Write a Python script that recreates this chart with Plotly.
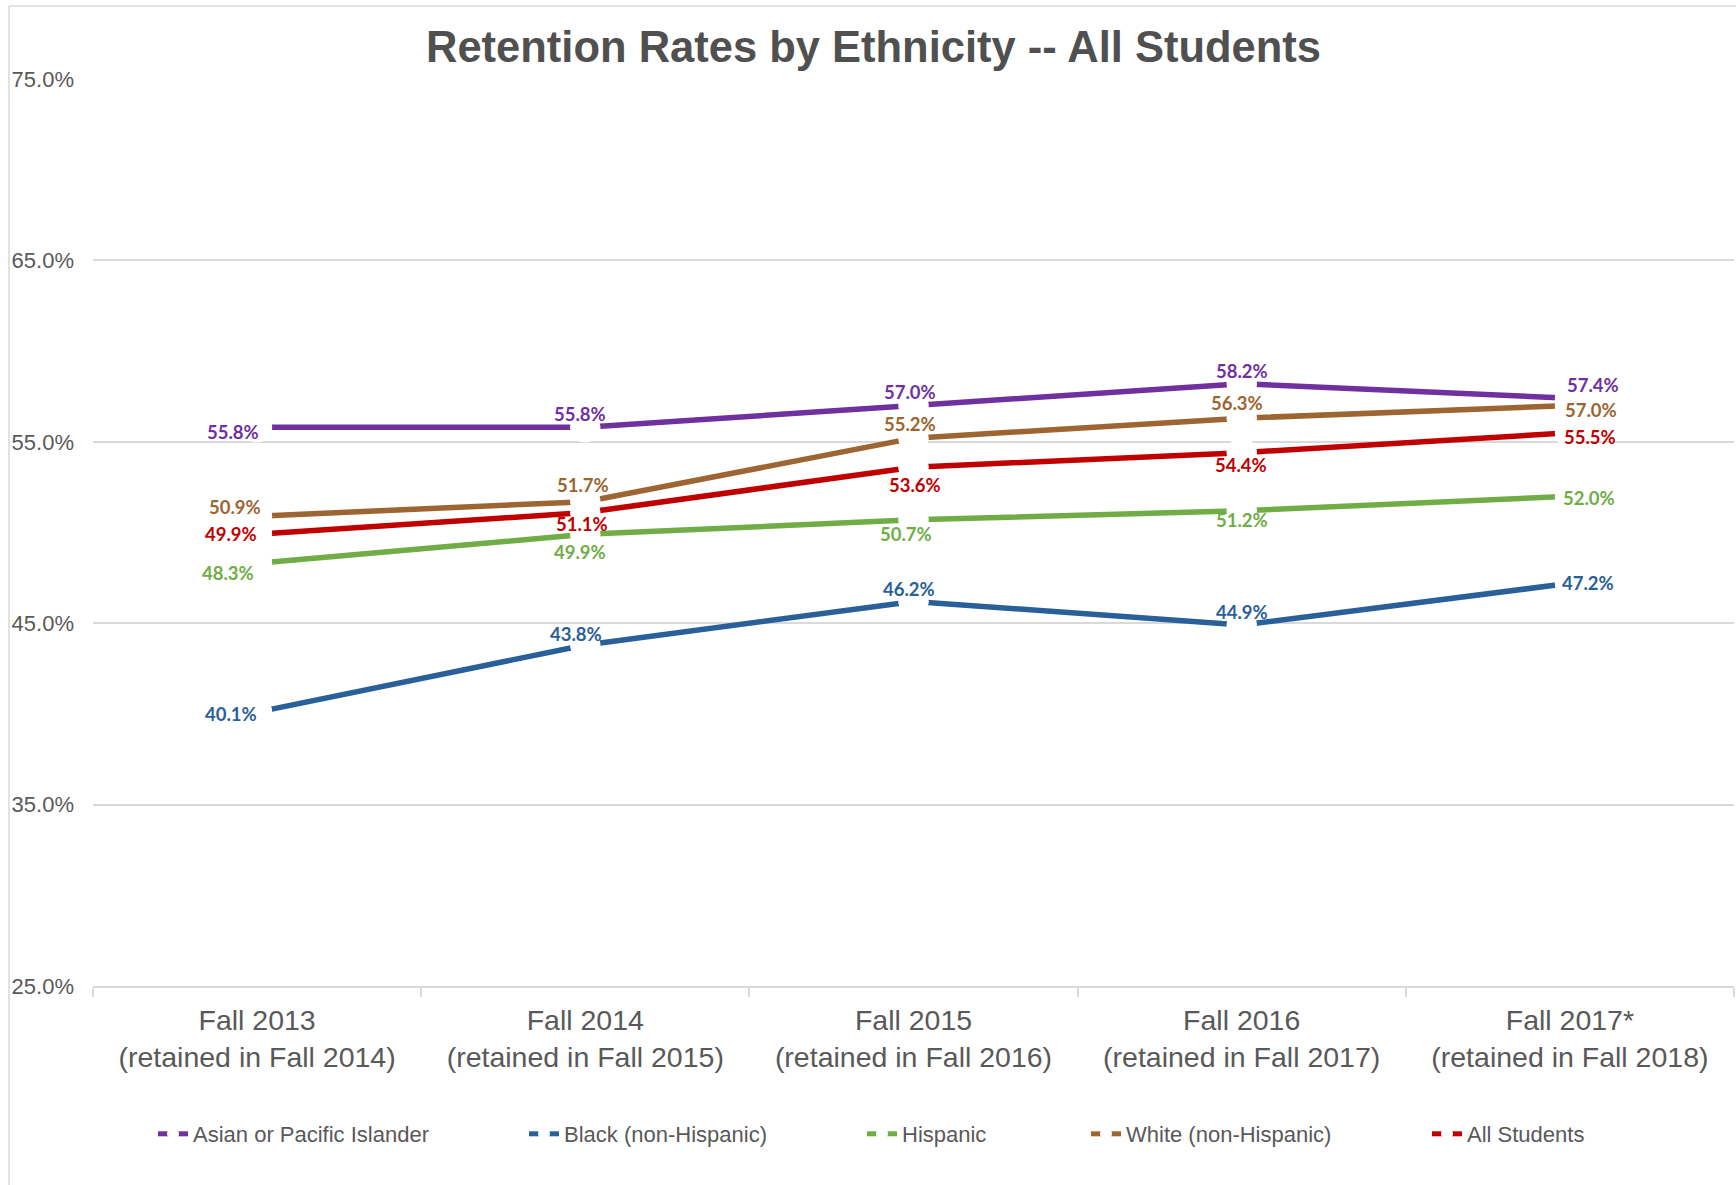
import plotly.graph_objects as go

# ---------------- data ----------------
categories = [
    "Fall 2013<br>(retained in Fall 2014)",
    "Fall 2014<br>(retained in Fall 2015)",
    "Fall 2015<br>(retained in Fall 2016)",
    "Fall 2016<br>(retained in Fall 2017)",
    "Fall 2017*<br>(retained in Fall 2018)",
]
series_names = [
    "Asian or Pacific Islander",
    "Black (non-Hispanic)",
    "Hispanic",
    "White (non-Hispanic)",
    "All Students",
]
asian = [55.8, 55.8, 57.0, 58.2, 57.4]
black = [40.1, 43.8, 46.2, 44.9, 47.2]
hispanic = [48.3, 49.9, 50.7, 51.2, 52.0]
white = [50.9, 51.7, 55.2, 56.3, 57.0]
all_students = [49.9, 51.1, 53.6, 54.4, 55.5]
y_ticks = [25, 35, 45, 55, 65, 75]

# ---------------- styles ----------------
colors = ["#7030A0", "#2A6099", "#70AD47", "#9C6531", "#C00000"]
series_values = [asian, black, hispanic, white, all_students]

# label offsets (pixels, dx right, dy down)
label_offsets = [
    [(-22, 4), (-5, -12), (-3, -12), (0, -11.5), (21, -11.6)],
    [(-24, 2), (-8, -10), (-4, -11), (0, -11.6), (16, 0)],
    [(-26, 9), (-5, 16), (-7, 12.5), (0, 8), (17, 2)],
    [(-20, -8), (-2, -15), (-3, -13), (-4, -13.7), (19, 4)],
    [(-24, 0), (-3, 10), (1, 16), (-1, 11), (18, 4)],
]
SCALE = 1.107
legend_x_px = [152, 523, 861, 1085, 1426]

W, H = 1736, 1185
ML, MR, MT, MB = 93, 2, 79, 199
PW = W - ML - MR
PH = H - MT - MB

fig = go.Figure()
for i, (name, vals, col) in enumerate(zip(series_names, series_values, colors)):
    fig.add_trace(go.Scatter(
        x=categories, y=vals, name=name, mode="lines+markers",
        line=dict(color=col, width=5.5),
        marker=dict(color="white", size=30, symbol="circle", line=dict(width=0)),
        legend="legend" if i == 0 else f"legend{i+1}",
        hoverinfo="skip",
    ))

# overlay white markers (gaps around every point)
all_x, all_y = [], []
for vals in series_values:
    all_x += categories
    all_y += vals
fig.add_trace(go.Scatter(
    x=all_x, y=all_y, mode="markers", showlegend=False, hoverinfo="skip",
    marker=dict(color="white", size=30, line=dict(width=0)),
))

annotations = []
for vals, col, offs in zip(series_values, colors, label_offsets):
    for c, v, (dx, dy) in zip(categories, vals, offs):
        annotations.append(dict(
            x=c, y=v, xref="x", yref="y", text=f"<b>{v:.1f}%</b>", showarrow=False,
            xanchor="center", yanchor="middle",
            xshift=dx * SCALE, yshift=-dy * SCALE,
            font=dict(family="Lato", size=18.5, color=col),
        ))

legends = {}
for i, px in enumerate(legend_x_px):
    key = "legend" if i == 0 else f"legend{i+1}"
    legends[key] = dict(
        x=(px - ML + 1) / PW, xanchor="left",
        y=(PH - (1134 - MT)) / PH, yanchor="middle",
        orientation="h", bgcolor="rgba(0,0,0,0)",
        font=dict(family="Liberation Sans", size=22, color="#595959"),
        itemwidth=30, itemsizing="constant",
    )

fig.update_layout(
    width=W, height=H,
    margin=dict(l=ML, r=MR, t=MT, b=MB, autoexpand=False),
    paper_bgcolor="white", plot_bgcolor="white",
    title=dict(
        text="<b>Retention Rates by Ethnicity -- All Students</b>",
        x=873.5 / W, xanchor="center", y=1 - 46.5 / H, yanchor="middle",
        font=dict(family="Liberation Sans", size=43.5, color="#505050"),
    ),
    annotations=annotations,
    **legends,
)

fig.update_xaxes(
    type="category", range=[-0.5, len(categories) - 0.5],
    showgrid=False, showline=True, linecolor="#D9D9D9", linewidth=1.5,
    ticks="outside", tickson="boundaries", ticklen=9, tickcolor="#D9D9D9", tickwidth=1.5,
    ticklabelstandoff=8,
    tickfont=dict(family="Liberation Sans", size=28.5, color="#595959"),
    zeroline=False,
)
fig.update_yaxes(
    range=[25, 75], tickvals=y_ticks, ticktext=[f"{t:.1f}%" for t in y_ticks],
    showgrid=True, gridcolor="#D9D9D9", gridwidth=1.5, zeroline=False, showline=False,
    ticks="", ticklabelstandoff=18,
    tickfont=dict(family="Liberation Sans", size=22, color="#595959"),
)

# chart border (top and left)
fig.add_shape(type="line", xref="paper", yref="paper",
              x0=(9 - ML) / PW, x1=1.01, y0=(PH + MT - 6) / PH, y1=(PH + MT - 6) / PH,
              line=dict(color="#D9D9D9", width=1.5))
fig.add_shape(type="line", xref="paper", yref="paper",
              x0=(9 - ML) / PW, x1=(9 - ML) / PW, y0=(PH + MT - 6) / PH, y1=-0.25,
              line=dict(color="#D9D9D9", width=1.5))

fig.write_html(
    "out.html",
    config={"displayModeBar": False},
    post_script="document.body.style.margin='0';document.body.style.overflow='hidden';",
)
